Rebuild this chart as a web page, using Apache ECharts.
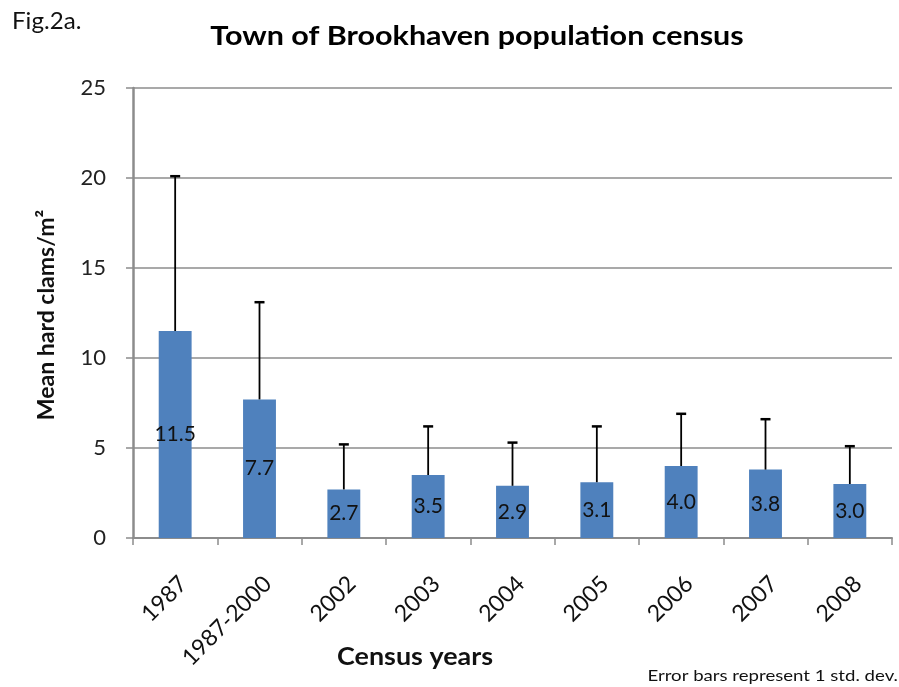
<!DOCTYPE html>
<html>
<head>
<meta charset="utf-8">
<script src="https://cdn.jsdelivr.net/npm/echarts@6/dist/echarts.min.js"></script>
<style>html,body{margin:0;padding:0;background:#fff;}#c{width:899px;height:687px;}</style>
</head>
<body>
<div id="c"></div>
<script>
var categories = ['1987', '1987-2000', '2002', '2003', '2004', '2005', '2006', '2007', '2008'];
var means = [11.5, 7.7, 2.7, 3.5, 2.9, 3.1, 4.0, 3.8, 3.0];
var stdDevs = [8.6, 5.4, 2.5, 2.7, 2.4, 3.1, 2.9, 2.8, 2.1];
var yTicks = [0, 5, 10, 15, 20, 25];

var FONT = 'Lato, "Open Sans", sans-serif';
var chart = echarts.init(document.getElementById('c'));
var errData = categories.map(function (c, i) { return [i, means[i], stdDevs[i]]; });

chart.setOption({
  animation: false,
  backgroundColor: '#fff',
  textStyle: { fontFamily: FONT },
  grid: { left: 133, right: 7, top: 88, bottom: 149, containLabel: false },
  xAxis: {
    type: 'category',
    data: categories,
    boundaryGap: true,
    axisLine: { show: true, lineStyle: { color: '#8c8c8c', width: 2 } },
    axisTick: { show: true, length: 7, lineStyle: { color: '#8c8c8c', width: 1.5 } },
    axisLabel: { rotate: 45, fontSize: 23, color: '#111', margin: 34, verticalAlign: 'top', align: 'right', fontFamily: FONT }
  },
  yAxis: {
    type: 'value',
    min: yTicks[0],
    max: yTicks[yTicks.length - 1],
    interval: 5,
    axisLine: { show: true, lineStyle: { color: '#8c8c8c', width: 2.5 } },
    axisTick: { show: true, length: 7, lineStyle: { color: '#8c8c8c', width: 1.5 } },
    axisLabel: { fontSize: 22, color: '#222', margin: 27, fontFamily: FONT },
    splitLine: { show: true, lineStyle: { color: '#8c8c8c', width: 1.5 } }
  },
  series: [
    {
      type: 'bar',
      data: means,
      barWidth: '39%',
      itemStyle: { color: '#4f81bd' },
      label: {
        show: true,
        position: 'inside',
        color: '#111',
        fontSize: 21,
        fontFamily: FONT,
        formatter: function (p) { return p.value.toFixed(1); }
      },
      z: 2
    },
    {
      type: 'custom',
      data: errData,
      z: 5,
      renderItem: function (params, api) {
        var x = api.value(0), m = api.value(1), s = api.value(2);
        var p0 = api.coord([x, m]);
        var p1 = api.coord([x, m + s]);
        return {
          type: 'group',
          children: [
            { type: 'line', shape: { x1: p0[0], y1: p0[1], x2: p1[0], y2: p1[1] }, style: { stroke: '#000', lineWidth: 1.8 } },
            { type: 'line', shape: { x1: p1[0] - 5, y1: p1[1], x2: p1[0] + 5, y2: p1[1] }, style: { stroke: '#000', lineWidth: 2.5 } }
          ]
        };
      }
    }
  ],
  graphic: [
    { type: 'text', x: 12, y: 22, scaleX: 1.05, style: { text: 'Fig.2a.', fontSize: 23, fill: '#111', fontFamily: FONT, textAlign: 'left', textVerticalAlign: 'middle' } },
    { type: 'text', x: 477, y: 36, scaleX: 1.13, style: { text: 'Town of Brookhaven population census', fontSize: 27, fontWeight: 'bold', fill: '#000', fontFamily: FONT, textAlign: 'center', textVerticalAlign: 'middle' } },
    { type: 'text', x: 47, y: 315, rotation: Math.PI / 2, style: { text: 'Mean hard clams/m²', fontSize: 23, fontWeight: 'bold', fill: '#111', fontFamily: FONT, textAlign: 'center', textVerticalAlign: 'middle' } },
    { type: 'text', x: 415, y: 657, scaleX: 1.12, style: { text: 'Census years', fontSize: 24, fontWeight: 'bold', fill: '#111', fontFamily: FONT, textAlign: 'center', textVerticalAlign: 'middle' } },
    { type: 'text', x: 898, y: 676, scaleX: 1.24, style: { text: 'Error bars represent 1 std. dev.', fontSize: 15, fill: '#111', fontFamily: FONT, textAlign: 'right', textVerticalAlign: 'middle' } }
  ]
});
</script>
</body>
</html>
